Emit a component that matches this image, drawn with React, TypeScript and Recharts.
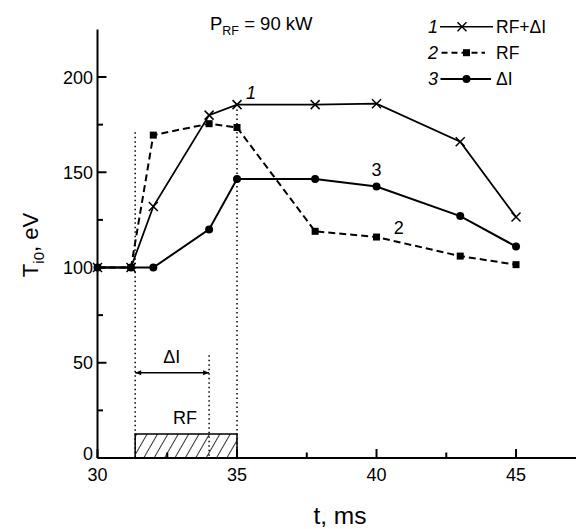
import React from 'react';
import { LineChart, Line, XAxis, YAxis, ReferenceLine, ReferenceArea, ReferenceDot } from 'recharts';

// ---- data ----
const times = [30, 31.2, 32, 34, 35, 37.8, 40, 43, 45];
const rfPlusDI = [100, 100, 132, 180, 185.5, 185.5, 186, 166, 126.5];
const rfOnly = [100, 100, 169.5, 175.5, 173.5, 119, 116, 106, 101.5];
const deltaI = [100, 100, 100, 120, 146.5, 146.5, 142.5, 127, 111];

const xTicks = [30, 32.5, 35, 37.5, 40, 42.5, 45];
const xMajor = [30, 35, 40, 45];
const yTicks = [0, 25, 50, 75, 100, 125, 150, 175, 200];
const yMajor = [0, 50, 100, 150, 200];

// RF pulse / ΔI interval markers (t in ms, T in eV)
const rfStart = 31.35;
const dIEnd = 34;
const rfEnd = 35;
const rfBoxTop = 12.6;
const arrowLevel = 44.8;
const guideLines = [
  { x: rfStart, top: 171 },
  { x: dIEnd, top: 54 },
  { x: rfEnd, top: 183 },
];
const annotations = [
  { x: 35.5, y: 191.5, text: '1', italic: true },
  { x: 40.0, y: 151, text: '3', italic: false },
  { x: 40.8, y: 120.5, text: '2', italic: false },
  { x: 32.66, y: 53, text: 'ΔI', italic: false },
  { x: 33.14, y: 21, text: 'RF', italic: false },
];

const data = times.map((t, i) => ({ t, a: rfPlusDI[i], b: rfOnly[i], c: deltaI[i] }));

const FONT = '"Liberation Sans", Arial, Helvetica, sans-serif';
const MINOR = 5.5;
const MAJOR = 9;

const CrossDot = (p: any) => {
  const { cx, cy } = p;
  if (cx == null || cy == null) return <g />;
  const s = 4.5;
  return (
    <g>
      <line x1={cx - s} y1={cy - s} x2={cx + s} y2={cy + s} stroke="#000" strokeWidth={1.5} />
      <line x1={cx - s} y1={cy + s} x2={cx + s} y2={cy - s} stroke="#000" strokeWidth={1.5} />
    </g>
  );
};
const SquareDot = (p: any) => {
  const { cx, cy } = p;
  if (cx == null || cy == null) return <g />;
  return <rect x={cx - 3.5} y={cy - 3.5} width={7} height={7} fill="#000" />;
};
const CircleDot = (p: any) => {
  const { cx, cy } = p;
  if (cx == null || cy == null) return <g />;
  return <circle cx={cx} cy={cy} r={4} fill="#000" />;
};

const XTick = (p: any) => {
  const { x, y, payload } = p;
  const v = payload.value;
  if (!xMajor.includes(v)) return <g />;
  return (
    <text x={Number(x)} y={Number(y) + 23} textAnchor="middle" fontFamily={FONT} fontSize={18} fill="#000">
      {v}
    </text>
  );
};

const YTick = (p: any) => {
  const { x, y, payload } = p;
  const v = payload.value;
  if (!yMajor.includes(v)) return <g />;
  return (
    <text x={Number(x) - 4.5} y={Number(y) + (v === 0 ? 2 : 6.5)} textAnchor="end" fontFamily={FONT} fontSize={18} fill="#000">
      {v}
    </text>
  );
};

// inward tick marks, drawn at the axis edge of a reference line
const xTickShape = (len: number) => (p: any) => {
  const { x1, y1, y2 } = p;
  if (x1 == null) return <g />;
  const yb = Math.max(Number(y1), Number(y2));
  return <line x1={x1} x2={x1} y1={yb} y2={yb - len} stroke="#000" strokeWidth={2} />;
};
const yTickShape = (len: number) => (p: any) => {
  const { x1, x2, y1 } = p;
  if (y1 == null) return <g />;
  const xl = Math.min(Number(x1), Number(x2));
  return <line x1={xl} x2={xl + len} y1={y1} y2={y1} stroke="#000" strokeWidth={2} />;
};

const ArrowShape = (p: any) => {
  const { x1, y1, x2, y2 } = p;
  if (x1 == null) return <g />;
  const h = 6;
  const w = 2.5;
  return (
    <g>
      <line x1={x1} y1={y1} x2={x2} y2={y2} stroke="#000" strokeWidth={1.5} />
      <path d={`M${x1},${y1} L${x1 + h},${y1 - w} L${x1 + h},${y1 + w} Z`} fill="#000" />
      <path d={`M${x2},${y2} L${x2 - h},${y2 - w} L${x2 - h},${y2 + w} Z`} fill="#000" />
    </g>
  );
};

const legendRows = [
  { num: '1', label: 'RF+ΔI', y: 18.7, dash: undefined as string | undefined, kind: 'cross', l1: 432, l2: 485, m: 454 },
  { num: '2', label: 'RF', y: 44.7, dash: '6 4', kind: 'square', l1: 433.5, l2: 477, m: 458.5 },
  { num: '3', label: 'ΔI', y: 71, dash: undefined, kind: 'circle', l1: 432.5, l2: 483, m: 458.5 },
];

export default function App() {
  return (
    <div style={{ width: 576, height: 521, background: '#fff' }}>
      <LineChart
        width={576}
        height={521}
        data={data}
        margin={{ top: 21.4, right: 1, bottom: 0, left: 0 }}
      >
        <defs>
          <pattern id="hatch" patternUnits="userSpaceOnUse" width="9" height="10" patternTransform="rotate(30)">
            <line x1="0" y1="-2" x2="0" y2="12" stroke="#000" strokeWidth="1.6" />
          </pattern>
        </defs>
        <XAxis
          dataKey="t"
          type="number"
          domain={[30, 47.4]}
          ticks={xTicks}
          interval={0}
          tickSize={0}
          tickMargin={0}
          tick={<XTick />}
          tickLine={false}
          axisLine={{ stroke: '#000', strokeWidth: 2 }}
          height={71}
        />
        <YAxis
          type="number"
          domain={[0, 225]}
          ticks={yTicks}
          interval={0}
          tickSize={0}
          tickMargin={0}
          tick={<YTick />}
          tickLine={false}
          axisLine={{ stroke: '#000', strokeWidth: 2 }}
          width={89.5}
        />
        {xTicks.map((v) => (
          <ReferenceLine key={'xt' + v} x={v} shape={xTickShape(xMajor.includes(v) ? MAJOR : MINOR)} />
        ))}
        {yTicks.map((v) => (
          <ReferenceLine key={'yt' + v} y={v} shape={yTickShape(yMajor.includes(v) ? MAJOR : MINOR)} />
        ))}
        {guideLines.map((g, i) => (
          <ReferenceLine
            key={'g' + i}
            segment={[{ x: g.x, y: g.top }, { x: g.x, y: 0 }]}
            stroke="#000"
            strokeWidth={1.5}
            strokeDasharray="1.5 3"
          />
        ))}
        <ReferenceArea
          x1={rfStart}
          x2={rfEnd}
          y1={0}
          y2={rfBoxTop}
          fill="url(#hatch)"
          fillOpacity={1}
          stroke="#000"
          strokeWidth={1.5}
        />
        <ReferenceLine
          segment={[{ x: rfStart, y: arrowLevel }, { x: dIEnd, y: arrowLevel }]}
          shape={ArrowShape}
        />
        {annotations.map((a, i) => (
          <ReferenceDot
            key={'a' + i}
            x={a.x}
            y={a.y}
            r={0}
            shape={(p: any) => (
              <text
                x={p.cx}
                y={p.cy + 6}
                textAnchor="middle"
                fontFamily={FONT}
                fontSize={18}
                fontStyle={a.italic ? 'italic' : 'normal'}
                fill="#000"
              >
                {a.text}
              </text>
            )}
          />
        ))}
        <Line
          dataKey="b"
          type="linear"
          stroke="#000"
          strokeWidth={2}
          strokeDasharray="7 4"
          dot={<SquareDot />}
          activeDot={false}
          isAnimationActive={false}
        />
        <Line
          dataKey="a"
          type="linear"
          stroke="#000"
          strokeWidth={1.8}
          dot={<CrossDot />}
          activeDot={false}
          isAnimationActive={false}
        />
        <Line
          dataKey="c"
          type="linear"
          stroke="#000"
          strokeWidth={2}
          dot={<CircleDot />}
          activeDot={false}
          isAnimationActive={false}
        />
        {/* title */}
        <text x={202} y={22} fontFamily={FONT} fontSize={18.5} fill="#000">
          P<tspan fontSize={12.5} dy={5}>RF</tspan>
          <tspan dy={-5}> = 90 kW</tspan>
        </text>
        {/* legend */}
        {legendRows.map((r) => (
          <g key={r.num}>
            <text x={425} y={r.y + 6} textAnchor="middle" fontFamily={FONT} fontSize={18} fontStyle="italic" fill="#000">
              {r.num}
            </text>
            <line x1={r.l1} x2={r.l2} y1={r.y} y2={r.y} stroke="#000" strokeWidth={r.kind === 'cross' ? 1.5 : 2} strokeDasharray={r.dash} />
            {r.kind === 'cross' && <CrossDot cx={r.m} cy={r.y} />}
            {r.kind === 'square' && <SquareDot cx={r.m} cy={r.y} />}
            {r.kind === 'circle' && <CircleDot cx={r.m} cy={r.y} />}
            <text x={488} y={r.y + 6} fontFamily={FONT} fontSize={17.5} fill="#000">
              {r.label}
            </text>
          </g>
        ))}
        {/* axis titles */}
        <text x={332} y={516} textAnchor="middle" fontFamily={FONT} fontSize={24.5} fill="#000">
          t, ms
        </text>
        <text
          transform="translate(30,237) rotate(-90)"
          textAnchor="middle"
          fontFamily={FONT}
          fontSize={22}
          fill="#000"
        >
          T<tspan fontSize={15} dy={6}>i0</tspan>
          <tspan dy={-6}>, eV</tspan>
        </text>
      </LineChart>
    </div>
  );
}
